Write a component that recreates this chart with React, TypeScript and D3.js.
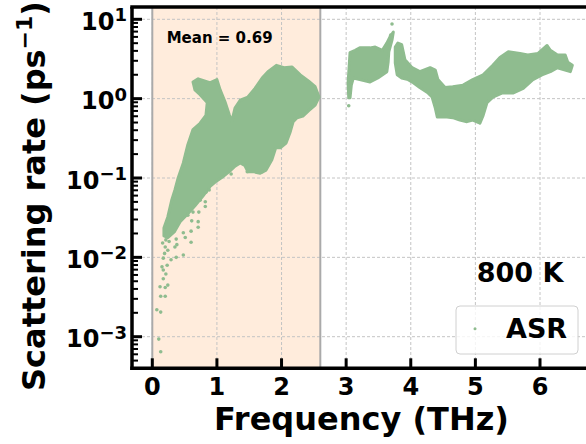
import React from "react";
import * as d3 from "d3";

// ---------- data ----------
const FREQ_TICKS = [0, 1, 2, 3, 4, 5, 6];
const DECADE_EXPONENTS = [-3, -2, -1, 0, 1];
const SHADE_RANGE: [number, number] = [0, 2.6];
const MEAN_LABEL = "Mean = 0.69";
const TEMP_LABEL = "800 K";
const SERIES_NAME = "ASR";

// Outline of the dense point cloud below 2.6 THz: [frequency (THz), log10 rate (ps^-1)]
const cloudLowOutline: [number, number][] = [
  [0.63, 0.21], [0.71, 0.25], [0.89, 0.2], [1.0, 0.24], [1.05, 0.11], [1.13, -0.05],
  [1.19, -0.2], [1.23, -0.29], [1.28, -0.12], [1.36, -0.02], [1.48, 0.02], [1.59, 0.13],
  [1.7, 0.26], [1.79, 0.34], [1.92, 0.42], [2.04, 0.39], [2.16, 0.4], [2.29, 0.3],
  [2.42, 0.22], [2.52, 0.15], [2.58, 0.02], [2.52, -0.08], [2.42, -0.15], [2.33, -0.22],
  [2.24, -0.24], [2.18, -0.29], [2.13, -0.43], [2.07, -0.56], [1.98, -0.62], [1.91, -0.62],
  [1.85, -0.77], [1.76, -0.9], [1.67, -0.94], [1.56, -0.92], [1.48, -0.92], [1.43, -0.84],
  [1.36, -0.81], [1.28, -0.85], [1.19, -0.92], [1.08, -0.99], [0.99, -1.04], [0.89, -1.11],
  [0.78, -1.23], [0.66, -1.35], [0.55, -1.45], [0.43, -1.55], [0.34, -1.68], [0.24, -1.75],
  [0.18, -1.73], [0.18, -1.63], [0.24, -1.49], [0.3, -1.28], [0.35, -1.15], [0.4, -1.0],
  [0.48, -0.81], [0.55, -0.58], [0.63, -0.39], [0.74, -0.31], [0.83, -0.21], [0.85, -0.05],
  [0.74, 0.05], [0.66, 0.11],
];

// Outline of the cloud between 3.0 and 3.7 THz
const cloudMidOutline: [number, number][] = [
  [3.04, 0.01], [3.03, 0.2], [3.06, 0.58], [3.14, 0.61], [3.21, 0.64], [3.37, 0.64],
  [3.45, 0.65], [3.56, 0.61], [3.63, 0.7], [3.68, 0.78], [3.73, 0.84], [3.71, 0.74],
  [3.66, 0.59], [3.65, 0.46], [3.63, 0.34], [3.49, 0.26], [3.37, 0.21], [3.21, 0.24],
  [3.11, 0.26], [3.08, 0.17], [3.06, 0.01],
];

// Outline of the cloud between 3.75 and 6.5 THz
const cloudHighOutline: [number, number][] = [
  [3.76, 0.65], [3.8, 0.7], [3.86, 0.68], [3.91, 0.49], [4.02, 0.39], [4.14, 0.34],
  [4.3, 0.39], [4.38, 0.36], [4.42, 0.24], [4.53, 0.14], [4.65, 0.15], [4.81, 0.17],
  [4.96, 0.24], [5.12, 0.3], [5.27, 0.42], [5.38, 0.52], [5.51, 0.59], [5.69, 0.57],
  [5.81, 0.55], [5.97, 0.57], [6.11, 0.67], [6.16, 0.61], [6.27, 0.55], [6.39, 0.55],
  [6.43, 0.46], [6.5, 0.42], [6.47, 0.34], [6.39, 0.36], [6.27, 0.39], [6.16, 0.34],
  [6.03, 0.3], [5.89, 0.24], [5.74, 0.13], [5.58, 0.07], [5.41, 0.07], [5.27, 0.02],
  [5.18, -0.05], [5.12, -0.21], [5.07, -0.31], [4.96, -0.27], [4.87, -0.29], [4.76, -0.27],
  [4.65, -0.24], [4.56, -0.23], [4.41, -0.23], [4.38, -0.12], [4.33, 0.02], [4.27, 0.07],
  [4.14, 0.14], [4.04, 0.2], [3.96, 0.24], [3.86, 0.26], [3.79, 0.3], [3.76, 0.45],
];

// Individual, isolated points: [frequency (THz), log10 rate]
const sparsePoints: [number, number][] = [
  [0.21, -1.78], [0.2, -1.87], [0.24, -1.91], [0.17, -2.01], [0.23, -2.1], [0.17, -2.16],
  [0.21, -2.21], [0.17, -2.27], [0.12, -2.37], [0.2, -2.38], [0.24, -2.35], [0.13, -2.49],
  [0.2, -2.49], [0.07, -2.66], [0.13, -2.69], [0.1, -3.03], [0.13, -3.19], [0.29, -2.03],
  [0.37, -2.0], [0.48, -1.97], [0.35, -1.87], [0.38, -1.84], [0.37, -1.77], [0.51, -1.75],
  [0.6, -1.81], [0.48, -1.69], [0.6, -1.67], [0.71, -1.62], [0.71, -1.55], [0.61, -1.54],
  [0.72, -1.43], [0.63, -1.43], [0.82, -1.36], [0.82, -1.3], [0.74, -1.28], [0.83, -1.18],
  [0.65, -1.31], [0.55, -1.47], [0.16, -1.82], [0.19, -1.95], [0.15, -2.12], [0.26, -1.8],
  [1.2, -0.9], [1.47, -0.92], [1.7, -0.92], [1.22, -0.95], [0.88, -1.15],
  [3.04, -0.09], [3.71, 0.94], [3.69, 0.8],
];

const GREEN = "#8fbc8f";
const FONT = "'DejaVu Sans', sans-serif";

export default function App() {
  const W = 586;
  const H = 444;
  const left = 132;
  const right = 591;
  const top = 7;
  const bottom = 368.3;

  const x = d3.scaleLinear().domain([0, 6]).range([152.3, 540]);
  const y = d3.scaleLog().domain([1e-3, 10]).range([336.7, 19.3]);

  const line = d3
    .line<[number, number]>()
    .x((d) => x(d[0]))
    .y((d) => y(Math.pow(10, d[1])))
    .curve(d3.curveLinearClosed);

  const minorTicks: number[] = [];
  for (let e = -4; e <= 1; e++) {
    for (let m = 2; m <= 9; m++) {
      const v = m * Math.pow(10, e);
      const py = y(v);
      if (py > top + 2 && py < bottom - 2) minorTicks.push(v);
    }
  }
  const majorTicks = DECADE_EXPONENTS.map((e) => Math.pow(10, e));

  return (
    <svg
      width={W}
      height={H}
      style={{ position: "absolute", left: 0, top: 0, background: "#fff" }}
      fontFamily={FONT}
    >
      <defs>
        <clipPath id="plotClip">
          <rect x={left} y={top} width={right - left} height={bottom - top} />
        </clipPath>
      </defs>

      <g clipPath="url(#plotClip)">
        {/* shaded region */}
        <rect
          x={x(SHADE_RANGE[0])}
          y={top}
          width={x(SHADE_RANGE[1]) - x(SHADE_RANGE[0])}
          height={bottom - top}
          fill="peachpuff"
          fillOpacity={0.5}
        />
        {/* grid */}
        {FREQ_TICKS.map((t) => (
          <line
            key={"gx" + t}
            x1={x(t)}
            x2={x(t)}
            y1={top}
            y2={bottom}
            stroke="#c4c4c4"
            strokeWidth={1}
            strokeDasharray="3,2"
          />
        ))}
        {majorTicks.map((t) => (
          <line
            key={"gy" + t}
            x1={left}
            x2={right}
            y1={y(t)}
            y2={y(t)}
            stroke="#c4c4c4"
            strokeWidth={1}
            strokeDasharray="3,2"
          />
        ))}
        {/* boundary lines */}
        {SHADE_RANGE.map((v) => (
          <line
            key={"vl" + v}
            x1={x(v)}
            x2={x(v)}
            y1={top}
            y2={bottom}
            stroke="#aaaaaa"
            strokeWidth={2}
          />
        ))}
        {/* dense clouds */}
        {[cloudLowOutline, cloudMidOutline, cloudHighOutline].map((c, i) => (
          <path
            key={"c" + i}
            d={line(c) || ""}
            fill={GREEN}
            stroke={GREEN}
            strokeWidth={3}
            strokeLinejoin="round"
          />
        ))}
        {sparsePoints.map((p, i) => (
          <circle key={"p" + i} cx={x(p[0])} cy={y(Math.pow(10, p[1]))} r={1.8} fill={GREEN} />
        ))}
      </g>

      {/* ticks */}
      {FREQ_TICKS.map((t) => (
        <line key={"tx" + t} x1={x(t)} x2={x(t)} y1={bottom} y2={bottom - 10} stroke="#000" strokeWidth={3} />
      ))}
      {majorTicks.map((t) => (
        <line key={"ty" + t} x1={left} x2={left + 10} y1={y(t)} y2={y(t)} stroke="#000" strokeWidth={3} />
      ))}
      {minorTicks.map((t) => (
        <line key={"tm" + t} x1={left} x2={left + 6} y1={y(t)} y2={y(t)} stroke="#000" strokeWidth={2} />
      ))}

      {/* spines */}
      <line x1={left - 1.75} x2={right} y1={top} y2={top} stroke="#000" strokeWidth={3.5} />
      <line x1={left} x2={left} y1={top} y2={bottom + 1.75} stroke="#000" strokeWidth={3.5} />
      <line x1={left - 1.75} x2={right} y1={bottom} y2={bottom} stroke="#000" strokeWidth={3.5} />

      {/* tick labels */}
      {FREQ_TICKS.map((t) => (
        <text key={"lx" + t} x={x(t)} y={395} textAnchor="middle" fontSize={24} fontWeight="bold">
          {t}
        </text>
      ))}
      {DECADE_EXPONENTS.map((e) => (
        <text key={"ly" + e} x={127} y={y(Math.pow(10, e)) + 10.5} textAnchor="end" fontSize={24} fontWeight="bold">
          <tspan>10</tspan>
          <tspan dy={-8.5} fontSize={18}>
            {e < 0 ? "\u2212" + Math.abs(e) : String(e)}
          </tspan>
        </text>
      ))}

      {/* axis labels */}
      <text x={361.5} y={430} textAnchor="middle" fontSize={32} fontWeight="bold">
        Frequency (THz)
      </text>
      <text transform="translate(45,196) rotate(-90)" textAnchor="middle" fontSize={32} fontWeight="bold">
        <tspan>Scattering rate (ps</tspan>
        <tspan dy={-13} fontSize={22}>{"\u22121"}</tspan>
        <tspan dy={13}>)</tspan>
      </text>

      {/* annotations */}
      <text x={166.7} y={43.3} fontSize={15} fontWeight="bold">
        {MEAN_LABEL}
      </text>
      <text x={476.7} y={281.7} fontSize={27} fontWeight="bold">
        {TEMP_LABEL}
      </text>

      {/* legend */}
      <rect x={456} y={306} width={122} height={48} rx={4} fill="#fff" fillOpacity={0.8} stroke="#d0d0d0" strokeWidth={1} />
      <circle cx={475} cy={328.7} r={1.5} fill={GREEN} />
      <text x={506} y={338} fontSize={27} fontWeight="bold">
        {SERIES_NAME}
      </text>
    </svg>
  );
}
